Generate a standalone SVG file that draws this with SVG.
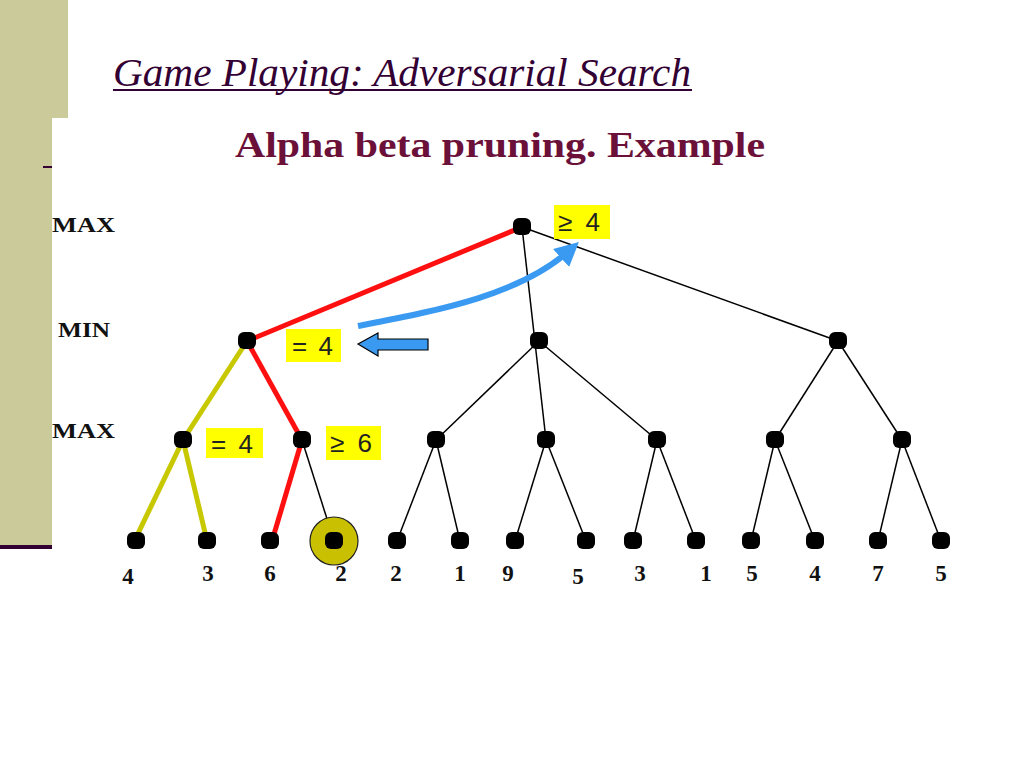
<svg xmlns="http://www.w3.org/2000/svg" width="1024" height="768" viewBox="0 0 1024 768">
<defs>
<style>
.lvl{font-family:"Liberation Serif",serif;font-weight:bold;font-size:22px;fill:#111}
.val{font-family:"Liberation Serif",serif;font-weight:bold;font-size:23px;fill:#111;text-anchor:middle}
.lbl{font-family:"Liberation Sans",sans-serif;font-size:26px;fill:#222}
.box{fill:#FFFF00}
.thin{stroke:#000;stroke-width:1.5;fill:none}
.red{stroke:#FF1010;stroke-width:5;fill:none}
.yel{stroke:#C8C800;stroke-width:5;fill:none}
.dot{fill:#000}
</style>
<marker id="ah" markerWidth="4" markerHeight="4" refX="2" refY="2" orient="auto" markerUnits="strokeWidth">
<path d="M0,0 L4,2 L0,4 Z" fill="#3A9AF2"/>
</marker>
</defs>
<rect width="1024" height="768" fill="#fff"/>
<rect x="0" y="0" width="68" height="118" fill="#CBCA9B"/>
<rect x="0" y="118" width="52" height="428" fill="#CBCA9B"/>
<rect x="0" y="545" width="52" height="4" fill="#330033"/>
<rect x="43" y="166" width="9" height="2" fill="#330033"/>
<text x="113" y="86" font-family="Liberation Serif, serif" font-style="italic" font-size="40" fill="#330033" textLength="578" lengthAdjust="spacingAndGlyphs">Game Playing: Adversarial Search</text>
<rect x="113" y="89" width="579" height="2" fill="#330033"/>
<text x="235" y="157" font-family="Liberation Serif, serif" font-weight="bold" font-size="35" fill="#6B1038" textLength="530" lengthAdjust="spacingAndGlyphs">Alpha beta pruning. Example</text>
<text class="lvl" x="52" y="232" textLength="63" lengthAdjust="spacingAndGlyphs">MAX</text>
<text class="lvl" x="58" y="337" textLength="52" lengthAdjust="spacingAndGlyphs">MIN</text>
<text class="lvl" x="52" y="438" textLength="63" lengthAdjust="spacingAndGlyphs">MAX</text>
<g id="connectors">
<line class="thin" x1="522" y1="227" x2="546" y2="440"/>
<line class="thin" x1="522" y1="227" x2="838" y2="341"/>
<line class="thin" x1="539" y1="341" x2="436" y2="440"/>
<line class="thin" x1="539" y1="341" x2="657" y2="440"/>
<line class="thin" x1="838" y1="341" x2="775" y2="440"/>
<line class="thin" x1="838" y1="341" x2="902" y2="440"/>
<line class="thin" x1="302" y1="440" x2="334" y2="541"/>
<line class="thin" x1="436" y1="440" x2="397" y2="541"/>
<line class="thin" x1="436" y1="440" x2="460" y2="541"/>
<line class="thin" x1="546" y1="440" x2="515" y2="541"/>
<line class="thin" x1="546" y1="440" x2="586" y2="541"/>
<line class="thin" x1="657" y1="440" x2="633" y2="541"/>
<line class="thin" x1="657" y1="440" x2="696" y2="541"/>
<line class="thin" x1="775" y1="440" x2="751" y2="541"/>
<line class="thin" x1="775" y1="440" x2="815" y2="541"/>
<line class="thin" x1="902" y1="440" x2="878" y2="541"/>
<line class="thin" x1="902" y1="440" x2="941" y2="541"/>
<line class="red" x1="522" y1="227" x2="247" y2="341"/>
<line class="red" x1="247" y1="341" x2="302" y2="440"/>
<line class="red" x1="302" y1="440" x2="272" y2="541"/>
<line class="yel" x1="247" y1="341" x2="183" y2="440"/>
<line class="yel" x1="183" y1="440" x2="131" y2="548"/>
<line class="yel" x1="183" y1="440" x2="207" y2="541"/>
<path d="M358,326 C440,310 520,295 570,250" stroke="#3A9AF2" stroke-width="6" fill="none" marker-end="url(#ah)"/>
<path d="M358,344 L378,333 L378,339 L428,339 L428,350 L378,350 L378,356 Z" fill="#3A9AF2" stroke="#000" stroke-width="1.2"/>
</g>
<g id="leaf-circle"><circle cx="334" cy="541" r="24" fill="#C8C000" stroke="#222" stroke-width="1.2"/></g>
<g id="nodes">
<g id="n-root"><rect class="dot" x="513" y="218" width="18" height="17" rx="6"/></g>
<g id="n-min1"><rect class="dot" x="238" y="332" width="18" height="17" rx="6"/></g>
<g id="n-min2"><rect class="dot" x="530" y="332" width="18" height="17" rx="6"/></g>
<g id="n-min3"><rect class="dot" x="829" y="332" width="18" height="17" rx="6"/></g>
<g id="n-max1"><rect class="dot" x="174" y="431" width="18" height="17" rx="6"/></g>
<g id="n-max2"><rect class="dot" x="293" y="431" width="18" height="17" rx="6"/></g>
<g id="n-max3"><rect class="dot" x="427" y="431" width="18" height="17" rx="6"/></g>
<g id="n-max4"><rect class="dot" x="537" y="431" width="18" height="17" rx="6"/></g>
<g id="n-max5"><rect class="dot" x="648" y="431" width="18" height="17" rx="6"/></g>
<g id="n-max6"><rect class="dot" x="766" y="431" width="18" height="17" rx="6"/></g>
<g id="n-max7"><rect class="dot" x="893" y="431" width="18" height="17" rx="6"/></g>
<g id="leaves">
<rect class="dot" x="127" y="532" width="18" height="17" rx="6"/>
<rect class="dot" x="198" y="532" width="18" height="17" rx="6"/>
<rect class="dot" x="261" y="532" width="18" height="17" rx="6"/>
<rect class="dot" x="325" y="532" width="18" height="17" rx="6"/>
<rect class="dot" x="388" y="532" width="18" height="17" rx="6"/>
<rect class="dot" x="451" y="532" width="18" height="17" rx="6"/>
<rect class="dot" x="506" y="532" width="18" height="17" rx="6"/>
<rect class="dot" x="577" y="532" width="18" height="17" rx="6"/>
<rect class="dot" x="624" y="532" width="18" height="17" rx="6"/>
<rect class="dot" x="687" y="532" width="18" height="17" rx="6"/>
<rect class="dot" x="742" y="532" width="18" height="17" rx="6"/>
<rect class="dot" x="806" y="532" width="18" height="17" rx="6"/>
<rect class="dot" x="869" y="532" width="18" height="17" rx="6"/>
<rect class="dot" x="932" y="532" width="18" height="17" rx="6"/>
</g>
</g>
<g id="labels">
<rect class="box" x="554" y="205" width="56" height="34"/><text class="lbl" x="558" y="231" textLength="42" lengthAdjust="spacing">≥ 4</text>
<rect class="box" x="286" y="329" width="55" height="33"/><text class="lbl" x="292" y="355" textLength="41" lengthAdjust="spacing">= 4</text>
<rect class="box" x="206" y="428" width="57" height="30"/><text class="lbl" x="211" y="453" textLength="42" lengthAdjust="spacing">= 4</text>
<rect class="box" x="326" y="426" width="55" height="34"/><text class="lbl" x="330" y="452" textLength="42" lengthAdjust="spacing">≥ 6</text>
</g>
<g id="values">
<text class="val" x="128" y="584">4</text>
<text class="val" x="208" y="581">3</text>
<text class="val" x="270" y="581">6</text>
<text class="val" x="341" y="581">2</text>
<text class="val" x="396" y="581">2</text>
<text class="val" x="460" y="581">1</text>
<text class="val" x="508" y="581">9</text>
<text class="val" x="578" y="584">5</text>
<text class="val" x="640" y="581">3</text>
<text class="val" x="706" y="581">1</text>
<text class="val" x="752" y="581">5</text>
<text class="val" x="815" y="581">4</text>
<text class="val" x="878" y="581">7</text>
<text class="val" x="941" y="581">5</text>
</g>
</svg>
